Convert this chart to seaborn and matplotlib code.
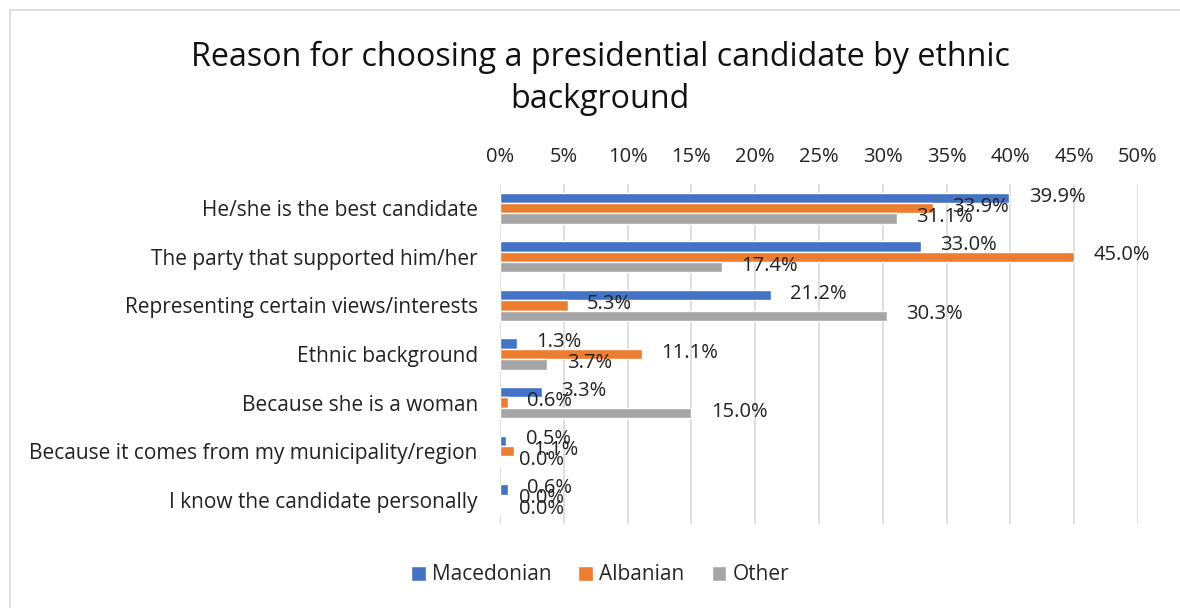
import matplotlib
matplotlib.use("Agg")
import matplotlib.pyplot as plt
from matplotlib.patches import Rectangle
import seaborn as sns
import pandas as pd

categories = [
    "He/she is the best candidate",
    "The party that supported him/her",
    "Representing certain views/interests",
    "Ethnic background",
    "Because she is a woman",
    "Because it comes from my municipality/region",
    "I know the candidate personally",
]
macedonian = [39.9, 33.0, 21.2, 1.3, 3.3, 0.5, 0.6]
albanian = [33.9, 45.0, 5.3, 11.1, 0.6, 1.1, 0.0]
other = [31.1, 17.4, 30.3, 3.7, 15.0, 0.0, 0.0]
groups = ["Macedonian", "Albanian", "Other"]
colors = ["#4472C4", "#ED7D31", "#A5A5A5"]
ticks = [0, 5, 10, 15, 20, 25, 30, 35, 40, 45, 50]

rows = []
for g, vals in zip(groups, [macedonian, albanian, other]):
    for c, v in zip(categories, vals):
        rows.append({"Reason": c, "Group": g, "Value": v})
df = pd.DataFrame(rows)

sns.set_style("white")
plt.rcParams["font.family"] = ["Open Sans", "DejaVu Sans"]

fig = plt.figure(figsize=(11.8, 6.08), dpi=100)
ax = fig.add_axes([500 / 1180, 1 - 524 / 608, 638 / 1180, 340 / 608])

sns.barplot(data=df, y="Reason", x="Value", hue="Group", order=categories,
            hue_order=groups, palette=colors, orient="h", width=0.64,
            saturation=1, ax=ax, legend=True, gap=0)

ax.set_xlim(0, 50)
ax.set_ylim(6.5, -0.5)
ax.set_xticks(ticks)
ax.set_xticklabels([f"{t}%" for t in ticks], fontsize=14.5, color="#222222")
ax.xaxis.tick_top()
ax.tick_params(axis="x", length=0, pad=12)
ax.tick_params(axis="y", length=0, pad=16, labelsize=15, labelcolor="#222222")
ax.set_xlabel("")
ax.set_ylabel("")
ax.grid(axis="x", color="#D9D9D9", linewidth=1.2)
ax.set_axisbelow(True)
for s in ax.spines.values():
    s.set_visible(False)

# value labels at bar ends
for container in ax.containers:
    for bar in container:
        w = bar.get_width()
        yc = bar.get_y() + bar.get_height() / 2
        ax.annotate(f"{w:.1f}%", xy=(w, yc), xytext=(14, 1),
                    textcoords="offset points", ha="left", va="center",
                    fontsize=14.5, color="#222222")

leg = ax.legend(loc="center", ncol=3, frameon=False,
                fontsize=15, handlelength=0.7, handleheight=0.7,
                handletextpad=0.3, columnspacing=1.3)
leg.set_bbox_to_anchor((600 / 1180, 1 - 575 / 608), transform=fig.transFigure)

fig.text(600 / 1180, 1 - 57 / 608, "Reason for choosing a presidential candidate by ethnic",
         ha="center", va="center", fontsize=23.2, color="#111111")
fig.text(600 / 1180, 1 - 100 / 608, "background",
         ha="center", va="center", fontsize=23.2, color="#111111")

fig.patches.append(Rectangle((10 / 1180, -0.1), 1.2, 1.1 - 10 / 608,
                             transform=fig.transFigure, fill=False,
                             edgecolor="#D9D9D9", linewidth=1.2))

fig.savefig("out.png", dpi=100)
